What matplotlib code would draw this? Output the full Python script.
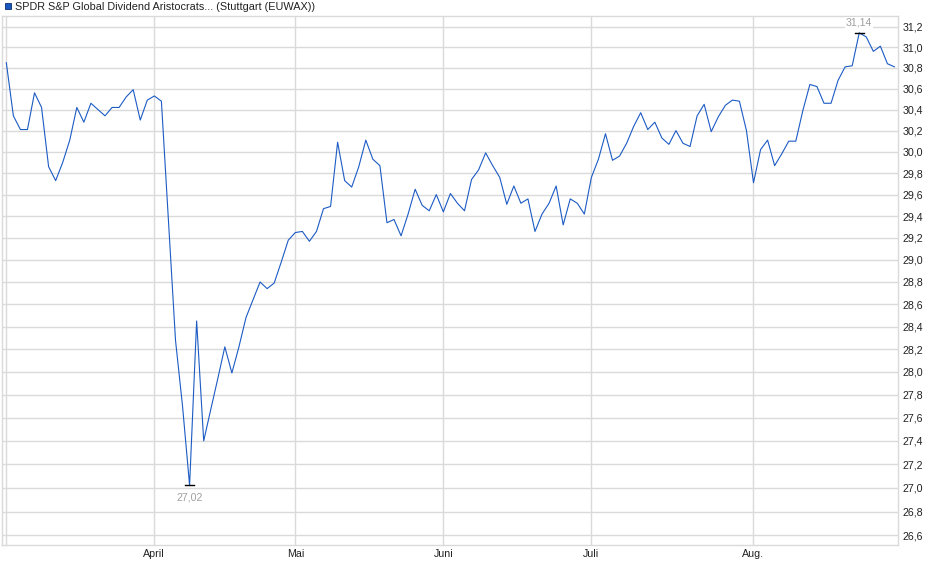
import matplotlib
matplotlib.use("Agg")
import matplotlib.pyplot as plt
from matplotlib.patches import Rectangle
from matplotlib.ticker import FixedLocator, NullLocator

plt.rcParams['font.family'] = ['Liberation Sans', 'DejaVu Sans']

# Daily closing prices (trading-day index, 3 Mar – 29 Aug)
prices = [
    30.85, 30.34, 30.21, 30.21, 30.56, 30.42, 29.86, 29.73, 29.90, 30.11,
    30.42, 30.28, 30.46, 30.40, 30.34, 30.42, 30.42, 30.52, 30.59, 30.30,
    30.49, 30.53, 30.48, 29.36, 28.28, 27.70, 27.02, 28.45, 27.40, 27.67,
    27.94, 28.22, 27.99, 28.22, 28.48, 28.64, 28.80, 28.74, 28.79, 28.98,
    29.18, 29.25, 29.26, 29.17, 29.26, 29.47, 29.49, 30.09, 29.73, 29.67,
    29.86, 30.11, 29.93, 29.87, 29.34, 29.37, 29.22, 29.42, 29.65, 29.50,
    29.45, 29.60, 29.44, 29.61, 29.52, 29.45, 29.74, 29.83, 29.99, 29.87,
    29.76, 29.51, 29.68, 29.52, 29.56, 29.26, 29.42, 29.52, 29.68, 29.32,
    29.56, 29.52, 29.42, 29.76, 29.93, 30.17, 29.92, 29.96, 30.08, 30.24,
    30.37, 30.21, 30.28, 30.13, 30.07, 30.20, 30.08, 30.05, 30.34, 30.45,
    30.19, 30.33, 30.44, 30.49, 30.48, 30.20, 29.71, 30.02, 30.11, 29.87,
    29.98, 30.10, 30.10, 30.39, 30.64, 30.62, 30.46, 30.46, 30.68, 30.81,
    30.82, 31.14, 31.10, 30.96, 31.01, 30.84, 30.81,
]
month_idx = [0, 21, 41, 62, 83, 106]
month_labels = ["", "April", "Mai", "Juni", "Juli", "Aug."]
y_ticks = [26.6, 26.8, 27.0, 27.2, 27.4, 27.6, 27.8, 28.0, 28.2, 28.4, 28.6,
           28.8, 29.0, 29.2, 29.4, 29.6, 29.8, 30.0, 30.2, 30.4, 30.6, 30.8,
           31.0, 31.2]
title = "SPDR S&P Global Dividend Aristocrats... (Stuttgart (EUWAX))"

W, H = 940, 579
fig = plt.figure(figsize=(W / 100, H / 100), dpi=100)
x0, x1 = 2.3, 898
yt, yb = 16, 545
ax = fig.add_axes([x0 / W, 1 - yb / H, (x1 - x0) / W, (yb - yt) / H])

line_col = "#1c5bc4"
grid_col = "#dadada"

xs = list(range(len(prices)))
ax.plot(xs, prices, color=line_col, lw=0.8, zorder=3)

ax.set_yscale('log')
ax.set_ylim(26.52, 31.305)
ax.set_xlim(-0.57, 126.5)

ax.yaxis.set_major_locator(FixedLocator(y_ticks))
ax.yaxis.set_minor_locator(NullLocator())
ax.set_yticklabels([f"{v:.1f}".replace('.', ',') for v in y_ticks])
ax.yaxis.tick_right()
ax.xaxis.set_major_locator(FixedLocator(month_idx))
ax.xaxis.set_minor_locator(NullLocator())
ax.set_xticklabels(month_labels)

ax.tick_params(axis='y', which='both', length=0, pad=3.5, labelsize=7.7,
               labelcolor="#222222")
ax.tick_params(axis='x', which='both', length=0, pad=3, labelsize=7.7,
               labelcolor="#222222")

ax.grid(True, which='major', color=grid_col, lw=1.0, zorder=0)
for s in ax.spines.values():
    s.set_color(grid_col)
    s.set_linewidth(1.0)

# min / max annotations
imin = prices.index(min(prices))
imax = prices.index(max(prices))
for idx, dy, va in [(imin, -5, 'top'), (imax, 3.5, 'bottom')]:
    v = prices[idx]
    ax.plot([idx - 0.65, idx + 0.65], [v, v], color='black', lw=1.0, zorder=4)
    ax.annotate(f"{v:.2f}".replace('.', ','), xy=(idx, v),
                xytext=(0, dy), textcoords='offset points', ha='center',
                va=va, fontsize=7.7, color="#a0a0a0", zorder=5,
                bbox=dict(boxstyle='square,pad=0.1', fc='white', ec='none'))

# legend-like title
fig.patches.append(Rectangle((4.5 / W, 1 - 9 / H), 6 / W, 6 / H,
                             transform=fig.transFigure, facecolor="#1a56c0",
                             edgecolor="#0b2e6e", lw=0.6))
fig.text(15 / W, 1 - 6.5 / H, title, fontsize=7.8, color="#222222",
         ha='left', va='center')

fig.savefig("out.png", dpi=100)
